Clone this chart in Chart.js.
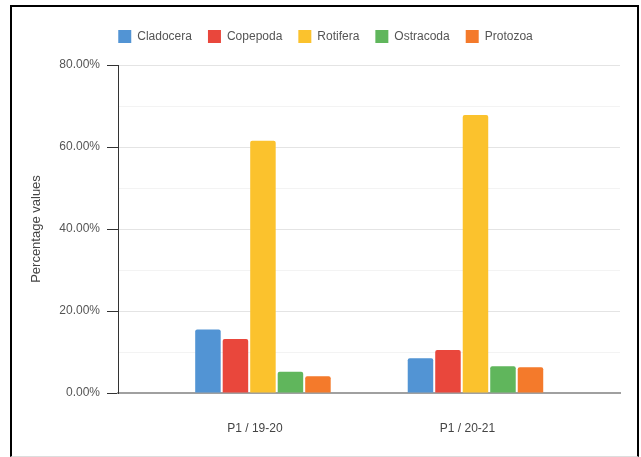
<!DOCTYPE html>
<html>
<head>
<meta charset="utf-8">
<script src="https://cdn.jsdelivr.net/npm/chart.js@4"></script>
<style>
  html, body { margin: 0; padding: 0; background: #fff; }
  #wrap { position: relative; width: 641px; height: 457px; }
  #frame {
    position: absolute; left: 10px; top: 5px; width: 625px; height: 449px;
    border-left: 2px solid #000; border-top: 2px solid #000; border-right: 2px solid #000;
    border-bottom: 1px solid #ddd; pointer-events: none;
  }
  canvas { position: absolute; left: 0; top: 0; }
</style>
</head>
<body>
<div id="wrap">
  <canvas id="chart" width="641" height="457"></canvas>
  <div id="frame"></div>
</div>
<script>
// periods on the x axis
const periods   = ["P1 / 19-20", "P1 / 20-21"];
// groups and their share (%) per period
const groups    = ["Cladocera", "Copepoda", "Rotifera", "Ostracoda", "Protozoa"];
const cladocera = [15.5, 8.5];
const copepoda  = [13.2, 10.5];
const rotifera  = [61.5, 67.8];
const ostracoda = [5.2, 6.5];
const protozoa  = [4.1, 6.3];
const colors    = ["#5294d4", "#e9473c", "#fbc22d", "#60b65c", "#f47a2b"];
// y axis ticks (%), labelled every 20
const yTicks    = [0, 10, 20, 30, 40, 50, 60, 70, 80];

const series = [cladocera, copepoda, rotifera, ostracoda, protozoa];

// legend box height pinned so the plot starts where it should
const legendHeight = {
  id: "legendHeight",
  beforeInit(chart) {
    const fit = chart.legend.fit;
    chart.legend.fit = function () {
      fit.call(this);
      this.height = 51;
    };
  }
};

new Chart(document.getElementById("chart"), {
  type: "bar",
  data: {
    datasets: groups.map((g, i) => ({
      label: g,
      data: series[i].map((v, j) => ({ x: j, y: v })),
      backgroundColor: colors[i],
      borderRadius: 2,
      borderSkipped: "bottom",
      categoryPercentage: 0.647,
      barPercentage: 0.927
    }))
  },
  options: {
    responsive: false,
    animation: false,
    layout: { padding: { top: 14, left: 31, right: 21, bottom: 21 } },
    plugins: {
      tooltip: { enabled: false },
      legend: {
        position: "top",
        labels: {
          boxWidth: 13,
          boxHeight: 13,
          padding: 16,
          color: "#555",
          font: { family: "'Liberation Sans', Arial, sans-serif", size: 12 }
        }
      }
    },
    scales: {
      x: {
        type: "linear",
        offset: false,
        min: -0.682,
        max: 1.68,
        afterBuildTicks(scale) {
          scale.ticks = periods.map((p, i) => ({ value: i }));
        },
        afterFit(scale) { scale.height = 43; },
        grid: { display: false, drawTicks: false, offset: false },
        border: { color: "#a0a0a0", width: 2 },
        ticks: {
          padding: 28,
          labelOffset: -8,
          maxRotation: 0,
          color: "#444",
          font: { family: "'Liberation Sans', Arial, sans-serif", size: 12 },
          callback: v => periods[v]
        }
      },
      y: {
        min: yTicks[0],
        max: yTicks[yTicks.length - 1],
        afterBuildTicks(scale) {
          scale.ticks = yTicks.map(v => ({ value: v }));
        },
        afterFit(scale) { scale.width = 87; },
        title: {
          display: true,
          text: "Percentage values",
          color: "#444",
          padding: { top: -2, bottom: 0 },
          font: { family: "'Liberation Sans', Arial, sans-serif", size: 13 }
        },
        border: { color: "#333", width: 1 },
        grid: {
          color: c => c.tick && c.tick.value % 20 === 0 ? "#e4e4e4" : "#f3f3f3",
          tickColor: c => c.tick && c.tick.value % 20 === 0 ? "#333" : "rgba(0,0,0,0)",
          tickLength: 11
        },
        ticks: {
          padding: 7,
          autoSkip: false,
          color: "#555",
          font: { family: "'Liberation Sans', Arial, sans-serif", size: 12 },
          callback: v => v % 20 === 0 ? v.toFixed(2) + "%" : ""
        }
      }
    }
  },
  plugins: [legendHeight]
});
</script>
</body>
</html>
